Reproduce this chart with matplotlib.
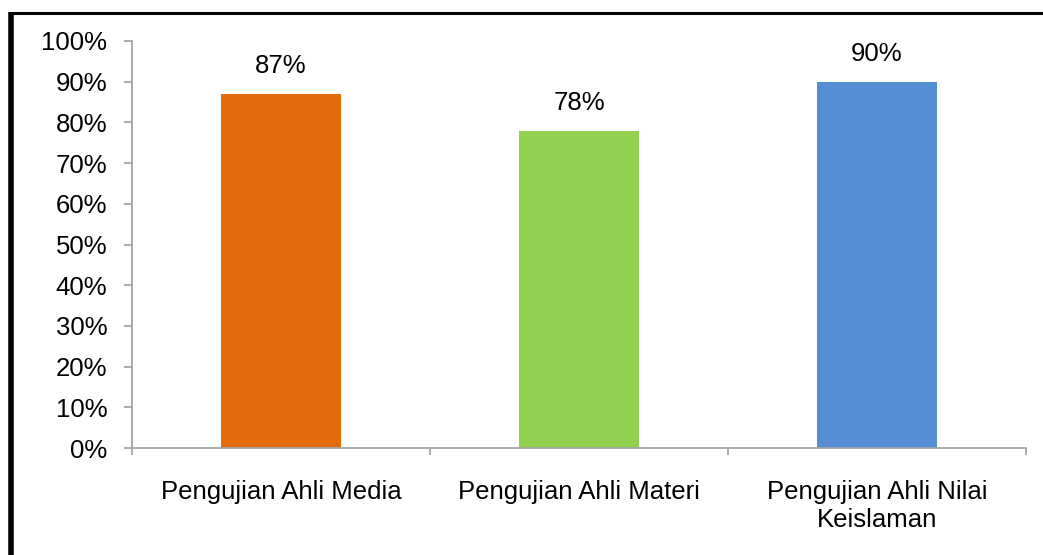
import matplotlib
matplotlib.use('Agg')  # no display
import matplotlib.pyplot as plt
from matplotlib.lines import Line2D
from matplotlib.ticker import PercentFormatter

categories = ['Pengujian Ahli Media', 'Pengujian Ahli Materi', 'Pengujian Ahli Nilai\nKeislaman']
values = [0.87, 0.78, 0.90]
bar_colors = ['#E36C0A', '#92D050', '#558ED5']
y_ticks = [0.0, 0.1, 0.2, 0.3, 0.4, 0.5, 0.6, 0.7, 0.8, 0.9, 1.0]

plt.rcParams['font.family'] = ['Liberation Sans', 'DejaVu Sans']
FS = 18.5

fig = plt.figure(figsize=(10.43, 5.55), dpi=100)
ax = fig.add_axes([132 / 1043, 1 - 448 / 555, (1026 - 132) / 1043, (448 - 41) / 555])

x = range(len(categories))
bars = ax.bar(x, values, width=0.4, color=bar_colors)

# value labels above the bars
for b, v in zip(bars, values):
    ax.annotate(f'{v:.0%}', (b.get_x() + b.get_width() / 2, v),
                xytext=(0, 15), textcoords='offset points',
                ha='center', va='baseline', fontsize=FS, color='#000000')

ax.set_xlim(-0.5, len(categories) - 0.5)
ax.set_ylim(0, 1)
ax.set_yticks(y_ticks)
ax.yaxis.set_major_formatter(PercentFormatter(1.0, decimals=0))

# category labels centred, tick marks on the boundaries
ax.set_xticks(list(x))
ax.set_xticklabels(categories, fontsize=FS, linespacing=1.2)
ax.set_xticks([i - 0.5 for i in range(len(categories) + 1)], minor=True)
ax.tick_params(axis='x', which='major', length=0, pad=23)
ax.tick_params(axis='x', which='minor', length=5.2, width=1.3, color='#A6A6A6')
ax.tick_params(axis='y', length=5.8, width=1.3, color='#A6A6A6', labelsize=FS, pad=12)

for s in ['top', 'right']:
    ax.spines[s].set_visible(False)
for s in ['left', 'bottom']:
    ax.spines[s].set_color('#A6A6A6')
    ax.spines[s].set_linewidth(1.3)

# black frame of the page (left and top edges)
fig.add_artist(Line2D([11 / 1043, 11 / 1043], [0, 1 - 12 / 555], color='black',
                      linewidth=4, transform=fig.transFigure, solid_capstyle='butt'))
fig.add_artist(Line2D([9 / 1043, 1], [1 - 12.5 / 555, 1 - 12.5 / 555], color='black',
                      linewidth=2.2, transform=fig.transFigure, solid_capstyle='butt'))

fig.savefig('out.png', dpi=100)
plt.close(fig)
